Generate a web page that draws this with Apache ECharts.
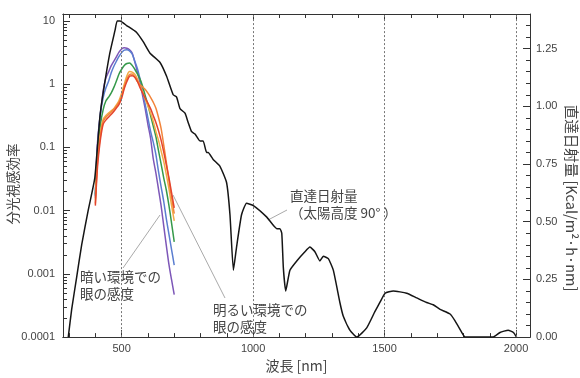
<!DOCTYPE html>
<html><head><meta charset="utf-8">
<script src="https://cdn.jsdelivr.net/npm/echarts@6/dist/echarts.min.js"></script>
<style>html,body{margin:0;padding:0;background:#fff}#c{width:580px;height:378px}</style>
</head><body><div id="c"></div>
<script>
// ---- Direct solar irradiance (right axis, Kcal/m2·h·nm)
const solarNm = [297,310,329,348,373,398,417,430,455,475,483,494,519,557,582,608,646,671,696,709,722,741,753,766,779,798,810,823,829,848,874,899,912,925,937,956,975,1001,1052,1090,1102,1109,1115,1124,1140,1166,1197,1216,1235,1254,1267,1286,1305,1330,1343,1368,1394,1432,1463,1482,1502,1533,1584,1622,1660,1685,1711,1749,1768,1799,1806,1913,1939,1970,1990,2002];
const solarVal = [0,0.12,0.26,0.40,0.55,0.69,0.95,1.06,1.23,1.33,1.37,1.37,1.35,1.32,1.28,1.23,1.19,1.13,1.05,1.04,0.99,0.97,0.93,0.89,0.88,0.85,0.85,0.80,0.80,0.77,0.74,0.67,0.53,0.29,0.39,0.53,0.58,0.57,0.52,0.47,0.47,0.45,0.30,0.20,0.29,0.33,0.37,0.39,0.37,0.33,0.35,0.34,0.29,0.15,0.09,0.03,0,0.04,0.11,0.15,0.19,0.20,0.19,0.17,0.15,0.14,0.12,0.10,0.07,0.01,0,0,0.02,0.03,0.02,0];

// ---- Spectral luminous efficiency curves (left log axis)
const visNm = [400,405,410,420,430,440,450,460,470,480,490,500,510,520,530,540,550,560,570,580,590,600,610,620,630,640,650,660,670,680,690,700];
const purpleVal = [0.016,0.07,0.15,0.36,0.80,1.25,1.55,1.95,2.3,2.7,3.2,3.6,3.75,3.7,3.5,3.1,2.25,1.55,1.05,0.65,0.40,0.23,0.14,0.067,0.04,0.022,0.012,0.0058,0.0028,0.0014,0.0008,0.00047];
const blueVal = [0.017,0.06,0.13,0.36,0.62,0.87,1.1,1.5,1.9,2.3,2.75,3.15,3.45,3.5,3.35,3.0,2.3,1.75,1.2,0.78,0.47,0.29,0.18,0.122,0.078,0.042,0.024,0.014,0.0074,0.0042,0.0024,0.00137];
const greenVal = [0.018,0.05,0.1,0.24,0.40,0.54,0.62,0.72,0.88,1.12,1.45,1.72,1.98,2.12,2.15,1.98,1.72,1.45,1.2,0.92,0.65,0.47,0.32,0.22,0.15,0.09,0.055,0.033,0.021,0.012,0.0063,0.0032];
const yellowVal = [0.015,0.04,0.08,0.18,0.28,0.32,0.35,0.38,0.41,0.47,0.55,0.72,1.0,1.35,1.58,1.55,1.43,1.2,0.93,0.75,0.57,0.45,0.35,0.26,0.18,0.13,0.088,0.06,0.037,0.022,0.012,0.0069];
const orangeVal = [0.013,0.035,0.07,0.16,0.26,0.30,0.33,0.36,0.40,0.45,0.52,0.65,0.9,1.2,1.42,1.45,1.3,1.1,0.98,0.9,0.82,0.72,0.62,0.52,0.42,0.3,0.2,0.11,0.058,0.03,0.016,0.009];
const redVal = [0.012,0.03,0.06,0.14,0.235,0.27,0.30,0.33,0.37,0.42,0.48,0.6,0.85,1.1,1.33,1.36,1.28,1.1,0.88,0.72,0.6,0.5,0.41,0.32,0.25,0.185,0.13,0.085,0.053,0.033,0.019,0.0111];

// ---- Axis ticks / labels
const xMajor = [500,1000,1500,2000];
const xMinor = [300,400,600,700,800,900,1100,1200,1300,1400,1600,1700,1800,1900];
const leftLabels = ['0.0001','0.001','0.01','0.1','1','10'];
const leftDecades = [-4,-3,-2,-1,0,1];
const rightMajor = [0,0.25,0.5,0.75,1.0,1.25];
const rightMinor = [0.05,0.1,0.15,0.2,0.3,0.35,0.4,0.45,0.55,0.6,0.65,0.7,0.8,0.85,0.9,0.95,1.05,1.1,1.15,1.2,1.3,1.35];

const X_MIN = 277, X_MAX = 2053;
const Y_LOG_MIN = 0.0001, Y_LOG_MAX = 12.86;
const R_MAX = 1.4;
const LOGMAX = Math.log10(Y_LOG_MAX);
const leftMinor = [];
for (let n = -4; n <= 0; n++) for (let k = 2; k <= 9; k++) leftMinor.push(n + Math.log10(k));

const FONT = "'Liberation Sans','Noto Sans CJK JP',sans-serif";
const JFONT = "'Noto Sans CJK JP','Liberation Sans',sans-serif";
const TXT = '#444';
const AX = '#333';

function pairs(xs, ys){ return xs.map((x,i)=>[x, ys[i]]); }

function xAx(pos, ticks, len, labels, extra){
  return Object.assign({
    type:'value', position:pos, min:X_MIN, max:X_MAX, gridIndex:0,
    axisLine:{show:true, onZero:false, lineStyle:{color:AX, width:1}},
    axisTick:{show:true, inside:true, length:len, customValues:ticks, lineStyle:{color:AX}},
    axisLabel: labels ? {show:true, customValues:labels, margin:6, fontSize:11, color:TXT, fontFamily:FONT,
      formatter:(v)=>String(Math.round(v))} : {show:false},
    splitLine:{show:false}
  }, extra||{});
}

const chart = echarts.init(document.getElementById('c'), null, {renderer:'canvas'});
const visSeries = [
  ['purple', purpleVal, '#7d57b8'],
  ['blue', blueVal, '#5b7ed0'],
  ['green', greenVal, '#35994a'],
  ['yellow', yellowVal, '#f2ab45'],
  ['orange', orangeVal, '#f2843a'],
  ['red', redVal, '#e4442c']
].map(([n, v, c]) => ({
  name:n, type:'line', xAxisIndex:0, yAxisIndex:0, data:pairs(visNm, v),
  showSymbol:false, smooth:0.3, lineStyle:{color:c, width:1.5}, z:3
}));

chart.setOption({
  animation:false,
  backgroundColor:'#fff',
  grid:{left:63, right:50, top:14, bottom:37, containLabel:false},
  xAxis:[
    xAx('bottom', xMajor, 7, xMajor, {name:'波長 [nm]', nameLocation:'middle', nameGap:20,
      nameTextStyle:{fontSize:14, color:TXT, fontFamily:JFONT}}),
    xAx('bottom', xMinor, 4, null),
    xAx('top', xMajor, 7, null),
    xAx('top', xMinor, 4, null)
  ],
  yAxis:[
    {type:'log', logBase:10, min:Y_LOG_MIN, max:Y_LOG_MAX, position:'left',
     axisLine:{show:false}, axisTick:{show:false}, axisLabel:{show:false}, splitLine:{show:false}},
    {type:'value', min:-4, max:LOGMAX, position:'left',
     axisLine:{show:true, lineStyle:{color:AX}},
     axisTick:{show:true, inside:true, length:7, customValues:leftDecades, lineStyle:{color:AX}},
     axisLabel:{show:true, customValues:leftDecades, margin:8, fontSize:11, color:TXT, fontFamily:FONT,
       formatter:(v)=>leftLabels[leftDecades.indexOf(Math.round(v))]},
     splitLine:{show:false}},
    {type:'value', min:-4, max:LOGMAX, position:'left',
     axisLine:{show:false},
     axisTick:{show:true, inside:true, length:4, customValues:leftMinor, lineStyle:{color:AX}},
     axisLabel:{show:false}, splitLine:{show:false}},
    {type:'value', min:0, max:R_MAX, position:'right',
     axisLine:{show:true, lineStyle:{color:AX}},
     axisTick:{show:true, inside:true, length:7, customValues:rightMajor, lineStyle:{color:AX}},
     axisLabel:{show:true, customValues:rightMajor, margin:6, fontSize:11, color:TXT, fontFamily:FONT,
       formatter:(v)=>v.toFixed(2)},
     splitLine:{show:false}},
    {type:'value', min:0, max:R_MAX, position:'right',
     axisLine:{show:false},
     axisTick:{show:true, inside:true, length:4, customValues:rightMinor, lineStyle:{color:AX}},
     axisLabel:{show:false}, splitLine:{show:false}}
  ],
  series: visSeries.concat([{
    name:'solar', type:'line', xAxisIndex:0, yAxisIndex:3, data:pairs(solarNm, solarVal),
    showSymbol:false, smooth:0.15, lineStyle:{color:'#151515', width:1.5}, z:4,
    markLine:{silent:true, symbol:['none','none'], label:{show:false},
      lineStyle:{color:'#777', type:[2,2], width:1},
      data: xMajor.map(v=>({xAxis:v}))}
  }]),
  graphic:[
    {type:'text', x:13, y:184, rotation:Math.PI/2,
     style:{text:'分光視感効率', fontSize:13.5, fill:TXT, fontFamily:JFONT, align:'center', verticalAlign:'middle'}},
    {type:'text', x:572, y:198, rotation:-Math.PI/2,
     style:{text:'直達日射量 [Kcal/m²·h·nm]', fontSize:14.5, fill:TXT, fontFamily:JFONT, align:'center', verticalAlign:'middle'}},
    {type:'line', shape:{x1:123, y1:268, x2:160, y2:215}, style:{stroke:'#aaa', lineWidth:1}},
    {type:'line', shape:{x1:225, y1:298, x2:173, y2:195}, style:{stroke:'#aaa', lineWidth:1}},
    {type:'line', shape:{x1:268, y1:220, x2:287, y2:210}, style:{stroke:'#aaa', lineWidth:1}},
    {type:'text', x:80, y:268,
     style:{text:'暗い環境での\n眼の感度', fontSize:13.5, lineHeight:17, fill:TXT, fontFamily:JFONT}},
    {type:'text', x:213, y:301,
     style:{text:'明るい環境での\n眼の感度', fontSize:13.5, lineHeight:17, fill:TXT, fontFamily:JFONT}},
    {type:'text', x:290, y:187,
     style:{text:'直達日射量\n（太陽高度 90° ）', fontSize:13.5, lineHeight:17, fill:TXT, fontFamily:JFONT}}
  ]
});
</script>
</body></html>
